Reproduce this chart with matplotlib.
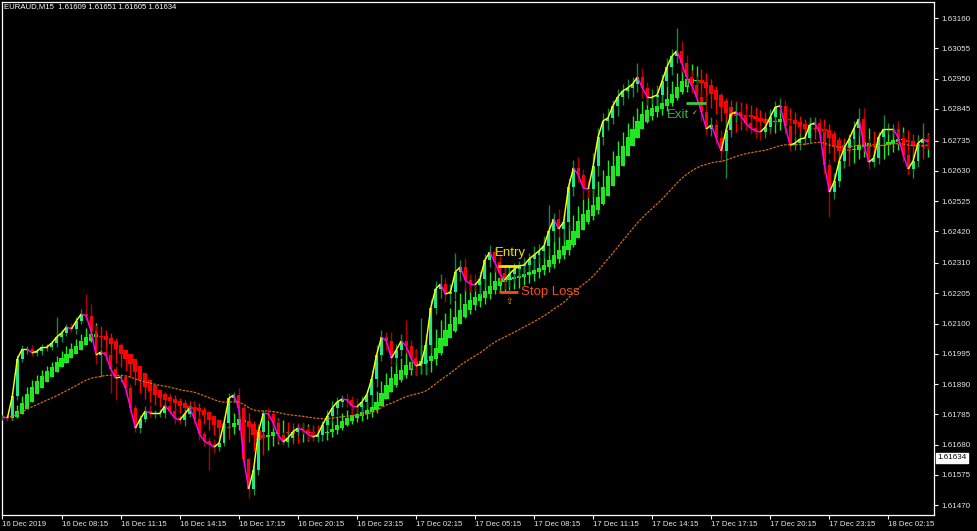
import numpy as np
import matplotlib
matplotlib.use("Agg")
import matplotlib.pyplot as plt
from matplotlib.collections import LineCollection

plt.rcParams['font.family'] = ['Liberation Sans', 'DejaVu Sans']

# chart header / last price
symbol_info = "EURAUD,M15  1.61609 1.61651 1.61605 1.61634"
last_price = 1.61634
last_price_label = "1.61634"

# M15 closes (one per bar)
close = [
    1.61775, 1.61772, 1.61848, 1.61977, 1.62011, 1.62011, 1.61998, 1.62004, 1.62018, 1.62018,
    1.62032, 1.62053, 1.62067, 1.62088, 1.62081, 1.62109, 1.62133, 1.62126, 1.62074, 1.61991,
    1.62001, 1.61991, 1.61942, 1.61911, 1.61914, 1.61876, 1.61807, 1.61737, 1.61769, 1.61796,
    1.61789, 1.61789, 1.61789, 1.61814, 1.61796, 1.61772, 1.61765, 1.61786, 1.61807, 1.61769,
    1.61717, 1.61692, 1.61682, 1.61671, 1.61685, 1.61755, 1.61841, 1.61852, 1.61807, 1.61630,
    1.61526, 1.61592, 1.61724, 1.61789, 1.61786, 1.61755, 1.61713, 1.61689, 1.61703, 1.61724,
    1.61737, 1.61730, 1.61717, 1.61706, 1.61713, 1.61748, 1.61779, 1.61807, 1.61828, 1.61838,
    1.61835, 1.61814, 1.61810, 1.61828, 1.61852, 1.61907, 1.61991, 1.62053, 1.62039, 1.61980,
    1.62008, 1.62039, 1.62022, 1.61980, 1.61953, 1.61959, 1.62025, 1.62154, 1.62220, 1.62237,
    1.62202, 1.62209, 1.62279, 1.62296, 1.62251, 1.62237, 1.62234, 1.62254, 1.62320, 1.62348,
    1.62313, 1.62275, 1.62251, 1.62272, 1.62289, 1.62300, 1.62303, 1.62324, 1.62338, 1.62352,
    1.62369, 1.62421, 1.62463, 1.62428, 1.62452, 1.62574, 1.62640, 1.62615, 1.62570, 1.62567,
    1.62647, 1.62747, 1.62803, 1.62813, 1.62855, 1.62886, 1.62907, 1.62917, 1.62931, 1.62955,
    1.62917, 1.62886, 1.62886, 1.62893, 1.62941, 1.62990, 1.63028, 1.63046, 1.63004, 1.62955,
    1.62928, 1.62886, 1.62834, 1.62775, 1.62789, 1.62744, 1.62699, 1.62771, 1.62827, 1.62834,
    1.62820, 1.62796, 1.62778, 1.62768, 1.62765, 1.62782, 1.62817, 1.62851, 1.62855, 1.62785,
    1.62719, 1.62726, 1.62740, 1.62744, 1.62789, 1.62796, 1.62765, 1.62650, 1.62556, 1.62594,
    1.62664, 1.62709, 1.62740, 1.62778, 1.62810, 1.62719, 1.62660, 1.62674, 1.62747, 1.62775,
    1.62775, 1.62775, 1.62744, 1.62685, 1.62636, 1.62664, 1.62726, 1.62740, 1.62730,
]

# wick lengths above / below the body, in points (0.00001)
hi_wick_pts = [
    8, 6, 10, 12, 15, 10, 14, 8, 12, 10,
    9, 69, 12, 10, 14, 12, 18, 69, 40, 22,
    10, 14, 8, 10, 12, 9, 14, 10, 12, 16,
    20, 12, 15, 10, 22, 14, 10, 18, 12, 25,
    12, 10, 14, 16, 8, 20, 18, 12, 24, 10,
    8, 14, 20, 12, 18, 10, 15, 12, 20, 16,
    10, 22, 14, 10, 18, 12, 20, 25, 18, 14,
    22, 12, 28, 20, 16, 30, 35, 24, 18, 30,
    20, 26, 73, 22, 30, 160, 40, 30, 26, 34,
    20, 28, 66, 24, 30, 20, 36, 28, 22, 26,
    18, 30, 20, 28, 22, 16, 26, 20, 30, 24,
    34, 90, 22, 36, 28, 30, 26, 38, 22, 28,
    45, 30, 26, 34, 20, 28, 24, 30, 26, 49,
    30, 20, 28, 36, 24, 30, 26, 80, 34, 28,
    24, 30, 20, 60, 26, 22, 28, 34, 24, 30,
    20, 26, 18, 24, 22, 30, 26, 20, 28, 22,
    18, 24, 20, 16, 26, 22, 18, 24, 20, 28,
    16, 22, 18, 26, 38, 38, 20, 24, 18, 49,
    22, 18, 26, 20, 16, 24, 28, 56, 18,
]
lo_wick_pts = [
    10, 12, 8, 14, 10, 16, 12, 10, 14, 12,
    10, 14, 16, 12, 10, 18, 12, 14, 20, 30,
    76, 20, 83, 76, 14, 24, 18, 12, 16, 10,
    14, 18, 12, 16, 10, 20, 14, 22, 12, 16,
    20, 18, 90, 21, 14, 10, 18, 14, 16, 20,
    31, 22, 18, 14, 20, 16, 24, 12, 18, 14,
    16, 12, 20, 14, 18, 22, 16, 20, 26, 18,
    24, 30, 20, 26, 22, 34, 28, 22, 30, 24,
    28, 22, 26, 34, 30, 24, 36, 28, 22, 30,
    26, 34, 24, 30, 38, 26, 22, 34, 28, 24,
    36, 28, 30, 24, 32, 26, 30, 22, 34, 28,
    24, 30, 36, 28, 40, 26, 32, 24, 38, 30,
    28, 34, 26, 30, 22, 36, 28, 24, 30, 26,
    34, 28, 24, 30, 26, 22, 28, 24, 30, 26,
    28, 24, 30, 22, 26, 20, 38, 94, 24, 28,
    22, 26, 20, 24, 28, 22, 18, 24, 20, 26,
    22, 18, 24, 20, 16, 22, 26, 30, 87, 24,
    20, 24, 18, 22, 26, 20, 24, 18, 22, 20,
    18, 24, 20, 26, 22, 30, 20, 18, 24,
]

price_ticks = [1.63160, 1.63055, 1.62950, 1.62845, 1.62735, 1.62630, 1.62525, 1.62420,
               1.62310, 1.62205, 1.62100, 1.61995, 1.61890, 1.61785, 1.61680, 1.61575, 1.61470]
time_tick_bars = [0, 12, 24, 36, 48, 60, 72, 84, 96, 108, 120, 132, 144, 156, 168, 180]
time_labels = ["16 Dec 2019", "16 Dec 08:15", "16 Dec 11:15", "16 Dec 14:15", "16 Dec 17:15",
               "16 Dec 20:15", "16 Dec 23:15", "17 Dec 02:15", "17 Dec 05:15", "17 Dec 08:15",
               "17 Dec 11:15", "17 Dec 14:15", "17 Dec 17:15", "17 Dec 20:15", "17 Dec 23:15",
               "18 Dec 02:15"]

# trade objects
entry_price, entry_bars = 1.62298, (100.7, 104.9)
stop_price, stop_bars = 1.62209, (100.9, 104.7)
exit_price, exit_bars = 1.62865, (138.9, 142.9)

MA_PERIOD = 50
HA_PERIOD = 6

# ---- build OHLC + indicators
c = np.array(close)
n = len(c)
x = np.arange(n)
o = np.r_[c[0], c[:-1]]
h = np.maximum(o, c) + np.array(hi_wick_pts) * 1e-5
l = np.minimum(o, c) - np.array(lo_wick_pts) * 1e-5


def ema(v, period):
    a = 2.0 / (period + 1)
    out = np.empty(len(v))
    out[0] = v[0]
    for i in range(1, len(v)):
        out[i] = out[i - 1] + a * (v[i] - out[i - 1])
    return out


def smma(v, period):
    out = np.empty(len(v))
    out[0] = v[0]
    for i in range(1, len(v)):
        out[i] = (out[i - 1] * (period - 1) + v[i]) / period
    return out


def lwma2(v):
    out = v.copy()
    out[1:] = (2 * v[1:] + v[:-1]) / 3
    return out


# smoothed heiken ashi
mo, mh, ml, mc = smma(o, HA_PERIOD), smma(h, HA_PERIOD), smma(l, HA_PERIOD), smma(c, HA_PERIOD)
ha_c = (mo + mh + ml + mc) / 4
ha_o = np.empty(n)
ha_o[0] = (mo[0] + mc[0]) / 2
for i in range(1, n):
    ha_o[i] = (ha_o[i - 1] + ha_c[i - 1]) / 2
ha_h = np.maximum.reduce([mh, ha_o, ha_c])
ha_l = np.minimum.reduce([ml, ha_o, ha_c])
ha_o, ha_c, ha_h, ha_l = lwma2(ha_o), lwma2(ha_c), lwma2(ha_h), lwma2(ha_l)

ma = ema(c, MA_PERIOD)

# ---- figure
fig = plt.figure(figsize=(9.77, 5.31), dpi=100, facecolor='black')
ax = fig.add_axes([2 / 977, 16 / 531, 932 / 977, 513 / 531])
ax.set_facecolor('black')
ax.set_xlim(-0.10, 189.25)
ax.set_ylim(1.614355, 1.632156)

# heiken ashi bars
ha_up = ha_c >= ha_o
ha_col = np.where(ha_up, '#1EE81E', '#FF0000')
ax.vlines(x, ha_l, ha_h, colors=ha_col, linewidth=1.0, zorder=2)
ax.bar(x, np.maximum(np.abs(ha_c - ha_o), 1.5e-5), bottom=np.minimum(ha_o, ha_c),
       width=0.85, color=ha_col, linewidth=0, zorder=2)

# candles
up = c >= o
wick_col = np.where(up, '#0F8A40', '#B00000')
body_col = np.where(up, '#1CE88C', '#FF0000')
ax.vlines(x, l, h, colors=wick_col, linewidth=1.0, zorder=3)
ax.bar(x, np.maximum(np.abs(c - o), 1.5e-5), bottom=np.minimum(o, c),
       width=0.6, color=body_col, linewidth=0, zorder=4)

# slow MA
ax.plot(x, ma, color='#D06A0C', linewidth=0.9, linestyle=(0, (2, 1)), zorder=5)

# fast line, yellow rising / magenta falling
segs = np.stack([np.column_stack([x[:-1], c[:-1]]), np.column_stack([x[1:], c[1:]])], axis=1)
seg_col = np.where(c[1:] >= c[:-1], '#FFFF00', '#FF00FF')
ax.add_collection(LineCollection(segs, colors=seg_col, linewidths=1.05, zorder=6))

# trade annotations
ax.hlines(entry_price, *entry_bars, color='#FFE600', linewidth=2, zorder=7)
ax.text(100.1, 1.62344, "Entry", color='#EEE000', fontsize=9.5, va='center', ha='left', zorder=7)
ax.hlines(stop_price, *stop_bars, color='#FF4A10', linewidth=2, zorder=7)
ax.text(105.3, stop_price, "Stop Loss", color='#F2501E', fontsize=9.5, va='center', ha='left', zorder=7)
ax.text(102.9, 1.62178, "\u21e7", color='#E8A010', fontsize=6.5, va='center', ha='center',
        family=['DejaVu Sans'], zorder=7)
ax.hlines(exit_price, *exit_bars, color='#3CCB3C', linewidth=2, zorder=7)
ax.text(135.0, 1.62823, "Exit", color='#3DB048', fontsize=9.5, va='center', ha='left', zorder=7)
ax.text(140.7, 1.62832, "\u2713", color='#E0C800', fontsize=5, va='center', ha='center',
        family=['DejaVu Sans'], zorder=7)

# header
ax.text(0.0025, 0.9905, symbol_info, transform=ax.transAxes, color='white',
        fontsize=5.6, va='center', ha='left')

# axes styling
for sp in ax.spines.values():
    sp.set_color('white')
    sp.set_linewidth(0.9)

ax.yaxis.tick_right()
ax.set_yticks(price_ticks, labels=[f"{p:.5f}" for p in price_ticks])
ax.tick_params(axis='y', colors='white', labelcolor='#E6E6E6', labelsize=5.8, length=3, pad=2.5)
ax.set_xticks(time_tick_bars, labels=time_labels)
ax.tick_params(axis='x', colors='white', labelcolor='#E6E6E6', labelsize=5.6, length=3, pad=1.5)
for lbl in ax.get_xticklabels():
    lbl.set_ha('left')

# current price marker
ax.text(1.0035, last_price, last_price_label, transform=ax.get_yaxis_transform(),
        ha='left', va='center', fontsize=5.8, color='black',
        bbox=dict(boxstyle='square,pad=0.18', fc='white', ec='white'), clip_on=False)

fig.savefig('out.png', dpi=100, facecolor='black')
